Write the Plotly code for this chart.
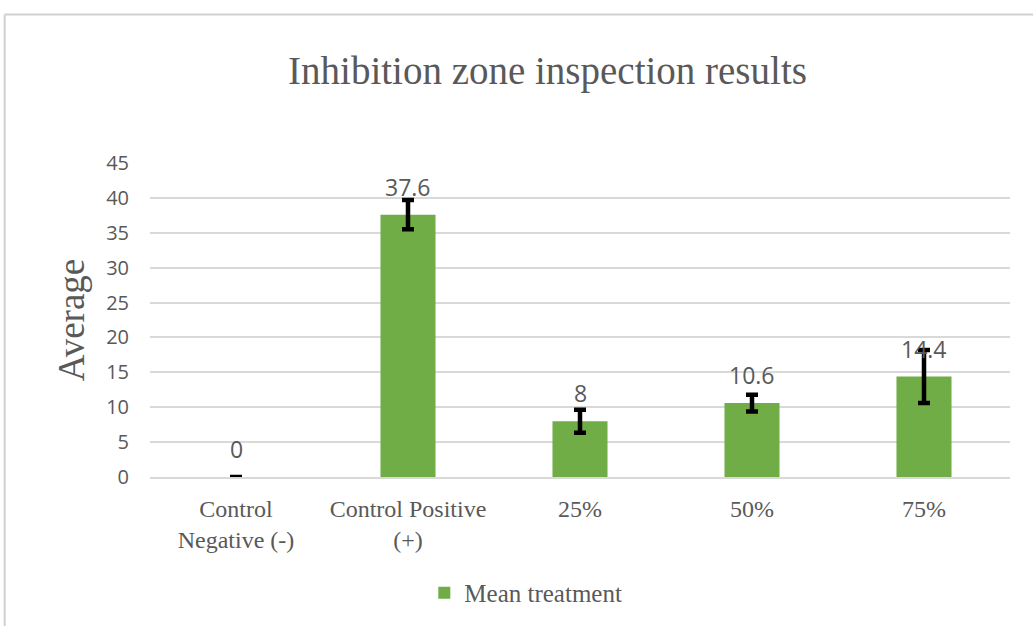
import plotly.graph_objects as go

categories = ["Control<br>Negative (-)", "Control Positive<br>(+)", "25%", "50%", "75%"]
means = [0, 37.6, 8, 10.6, 14.4]
errors = [0, 2.1, 1.65, 1.2, 3.8]
labels = ["0", "37.6", "8", "10.6", "14.4"]
y_ticks = [0, 5, 10, 15, 20, 25, 30, 35, 40, 45]

serif = "Liberation Serif, Times New Roman, serif"
sans = "Open Sans, Liberation Sans, sans-serif"
grey = "#595959"

fig = go.Figure()
fig.add_trace(go.Bar(
    x=categories, y=means, name="Mean treatment",
    marker=dict(color="#70ad47", line=dict(width=0)),
    width=0.32,
    error_y=dict(type="data", array=errors, visible=True, color="black",
                 thickness=4.5, width=6),
))

for c, m, t in zip(categories, means, labels):
    fig.add_annotation(x=c, y=m, text=t, showarrow=False, yshift=28,
                       font=dict(family=sans, size=23, color=grey))

fig.update_layout(
    width=1033, height=626,
    paper_bgcolor="white", plot_bgcolor="white",
    margin=dict(l=150, r=23, t=163, b=148),
    title=dict(text="Inhibition zone inspection results", x=0.53, xanchor="center",
               y=0.888, yanchor="middle",
               font=dict(family=serif, size=39, color=grey)),
    showlegend=True,
    legend=dict(orientation="h", x=0.437, xanchor="center", y=-0.365, yanchor="middle",
                font=dict(family=serif, size=25, color=grey),
                itemwidth=30),
)
fig.update_xaxes(showline=True, linecolor="#d9d9d9", linewidth=2,
                 tickfont=dict(family=serif, size=24, color=grey), ticks="",
                 ticklabelstandoff=9)
fig.update_yaxes(range=[0, 45], tickvals=y_ticks, showgrid=True, gridcolor="#d9d9d9",
                 gridwidth=2, zeroline=False,
                 tickfont=dict(family=sans, size=20, color=grey), ticks="",
                 ticklabelstandoff=20,
                 title=dict(text="Average", font=dict(family=serif, size=37, color=grey),
                            standoff=10))

fig.add_shape(type="line", xref="paper", yref="paper", x0=-0.169, x1=1.1, y0=1.473, y1=1.473,
              line=dict(color="#d0d0d0", width=2))
fig.add_shape(type="line", xref="paper", yref="paper", x0=-0.169, x1=-0.169, y0=1.473, y1=-0.5,
              line=dict(color="#d0d0d0", width=2))

fig.write_html("out.html", config={"displayModeBar": False},
               post_script="document.body.style.margin='0';")
